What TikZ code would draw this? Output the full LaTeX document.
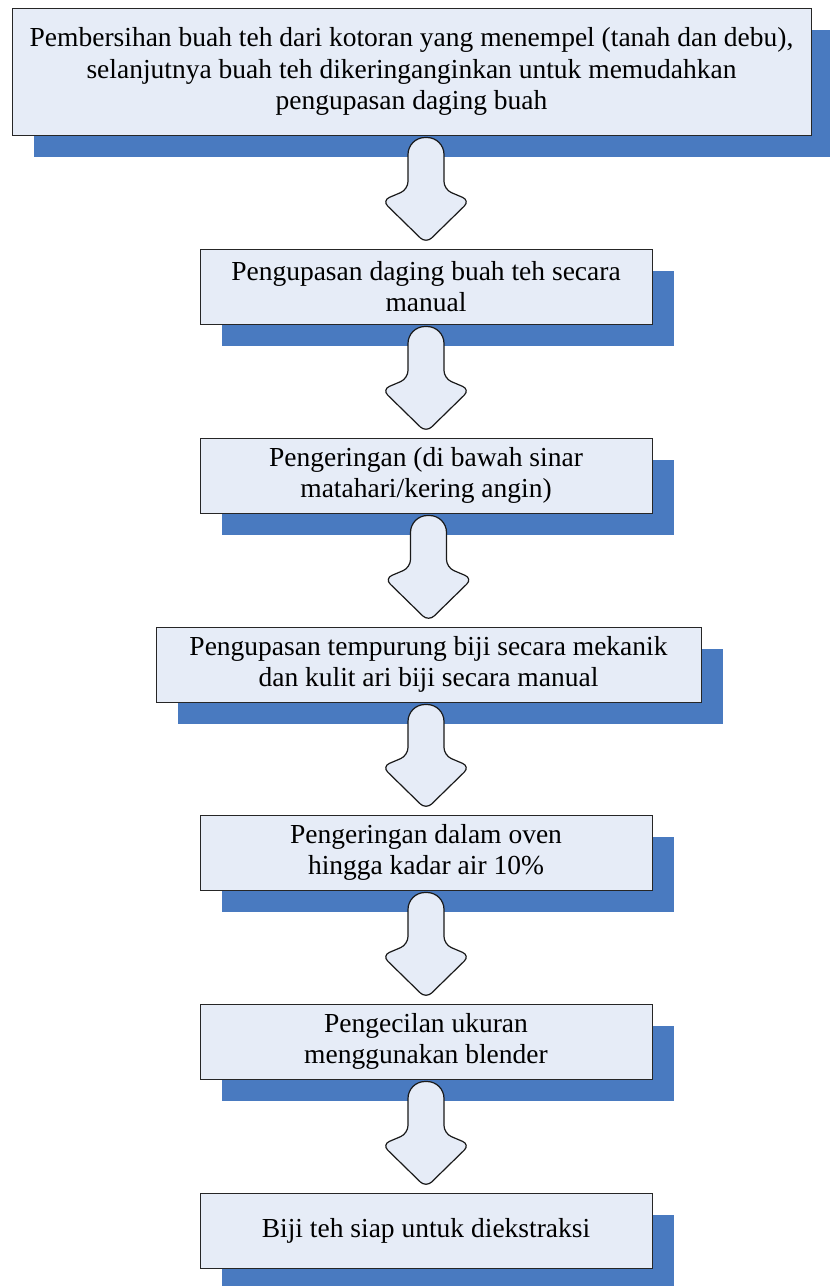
\documentclass[tikz,border=0pt]{standalone}
\usepackage{fontspec}
\setmainfont{Liberation Serif}
\usetikzlibrary{shadows,calc}
\definecolor{boxfill}{RGB}{230,236,247}
\definecolor{shadowblue}{RGB}{73,122,192}
\tikzset{
  stepbox/.style={draw=black!85, line width=1pt, fill=boxfill, inner sep=0pt,
    align=center, font=\fontsize{27.5}{31.5}\selectfont,
    drop shadow={shadow xshift=22pt, shadow yshift=-22pt, fill=shadowblue, opacity=1}},
  flowarrow/.style={draw=black!90, line width=1.2pt, fill=boxfill}
}
% block arrow from the bottom of one box to the top of the next
\newcommand\blockarrow[2]{%
  \draw[flowarrow] let \p1=($(#1.south)$), \p2=($(#2.north)$),
      \n1={\y1-2pt}, \n2={\y2+5pt} in
    [rounded corners=7pt] (\x2-18pt,\n2+54pt)
    [rounded corners=17pt] -- (\x2-18pt,\n1) -- (\x2+18pt,\n1)
    [rounded corners=8pt] -- (\x2+18pt,\n2+54pt) -- (\x2+44pt,\n2+43pt)
    -- (\x2,\n2) -- (\x2-44pt,\n2+43pt) -- cycle;}
\begin{document}
\begin{tikzpicture}[x=1pt,y=-1pt]
\useasboundingbox (0,0) rectangle (830,1286);
\node[stepbox, minimum width=799pt, minimum height=127pt] (b1) at (411.5,71.5)
  {Pembersihan buah teh dari kotoran yang menempel (tanah dan debu),\\
   selanjutnya buah teh dikeringanginkan untuk memudahkan\\
   pengupasan daging buah};
\node[stepbox, minimum width=452pt, minimum height=75pt] (b2) at (426,286.5)
  {Pengupasan daging buah teh secara\\ manual};
\node[stepbox, minimum width=452pt, minimum height=75pt] (b3) at (426,475.5)
  {Pengeringan (di bawah sinar\\ matahari/kering angin)};
\node[stepbox, minimum width=545pt, minimum height=75pt] (b4) at (428.5,664.5)
  {Pengupasan tempurung biji secara mekanik\\ dan kulit ari biji secara manual};
\node[stepbox, minimum width=452pt, minimum height=75pt] (b5) at (426,852.5)
  {Pengeringan dalam oven\\ hingga kadar air 10\%};
\node[stepbox, minimum width=452pt, minimum height=75pt] (b6) at (426,1041.5)
  {Pengecilan ukuran\\ menggunakan blender};
\node[stepbox, minimum width=452pt, minimum height=75pt] (b7) at (426,1230.5)
  {Biji teh siap untuk diekstraksi};
\blockarrow{b1}{b2}
\blockarrow{b2}{b3}
\blockarrow{b3}{b4}
\blockarrow{b4}{b5}
\blockarrow{b5}{b6}
\blockarrow{b6}{b7}
\end{tikzpicture}
\end{document}
